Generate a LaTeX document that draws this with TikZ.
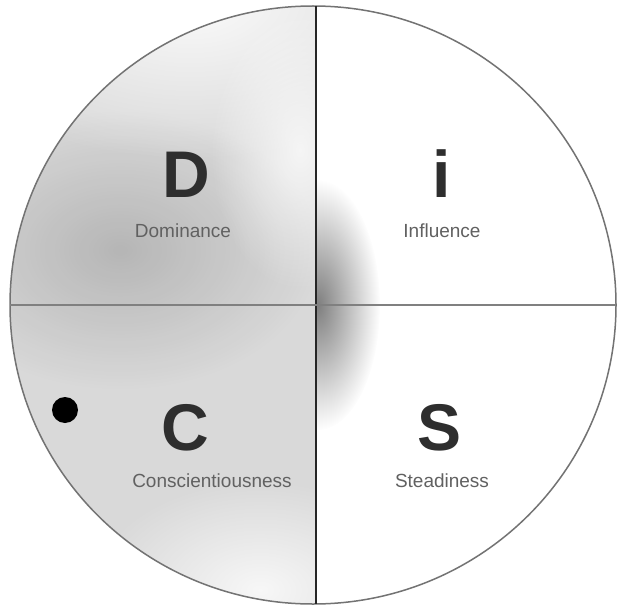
\documentclass[tikz,border=0pt]{standalone}
\usepackage{fontspec}
\setsansfont{Liberation Sans}
\usepackage{tikz}
\usetikzlibrary{fadings}
\tikzfading[name=softspot, inner color=transparent!0, outer color=transparent!100]

\begin{document}
\begin{tikzpicture}[x=1pt,y=-1pt,
  bigletter/.style={font=\sffamily\bfseries\fontsize{66}{66}\selectfont, text=black!82, anchor=base, inner sep=0pt},
  traitlabel/.style={font=\sffamily\fontsize{19}{19}\selectfont, text=black!62, anchor=base, inner sep=0pt}]
\useasboundingbox (0,0) rectangle (618,607);
\fill[white] (0,0) rectangle (618,607);
\begin{scope}
\clip (313,305) ellipse (303 and 299);
% grey on the left half
\fill[black!15] (0,0) rectangle (316,607);
\fill[black, opacity=0.16, path fading=softspot] (120,250) ellipse (200 and 140);
\fill[white, opacity=0.9, path fading=softspot] (190,0) ellipse (280 and 160);
\fill[white, opacity=0.75, path fading=softspot] (300,150) ellipse (90 and 140);
\fill[white, opacity=0.8, path fading=softspot] (260,590) ellipse (170 and 110);
\end{scope}
\begin{scope}
% shadow right of the centre
\clip (316,0) rectangle (618,607);
\fill[black, opacity=0.5, path fading=softspot] (318,305) ellipse (62 and 125);
\end{scope}
\coordinate (top) at (316,6);
\coordinate (bottom) at (316,604);
\coordinate (west) at (10,305);
\coordinate (east) at (616,305);
\draw[black!55, line width=1.5pt] (313,305) ellipse (303 and 299);
\draw[black!85, line width=2pt] (top) -- (bottom);
\draw[black!50, line width=1.2pt] (west) -- (east);
\node[bigletter] (D) at (186,197) {D};
\node[traitlabel] (dom) at (183,237) {Dominance};
\node[bigletter] (I) at (442,197) {i};
\node[traitlabel] (inf) at (442,237) {Influence};
\node[bigletter] (C) at (185,450) {C};
\node[traitlabel] (con) at (212,487) {Conscientiousness};
\node[bigletter] (S) at (440,450) {S};
\node[traitlabel] (ste) at (442,487) {Steadiness};
\fill[black] (65,410) circle (13);
\end{tikzpicture}
\end{document}
